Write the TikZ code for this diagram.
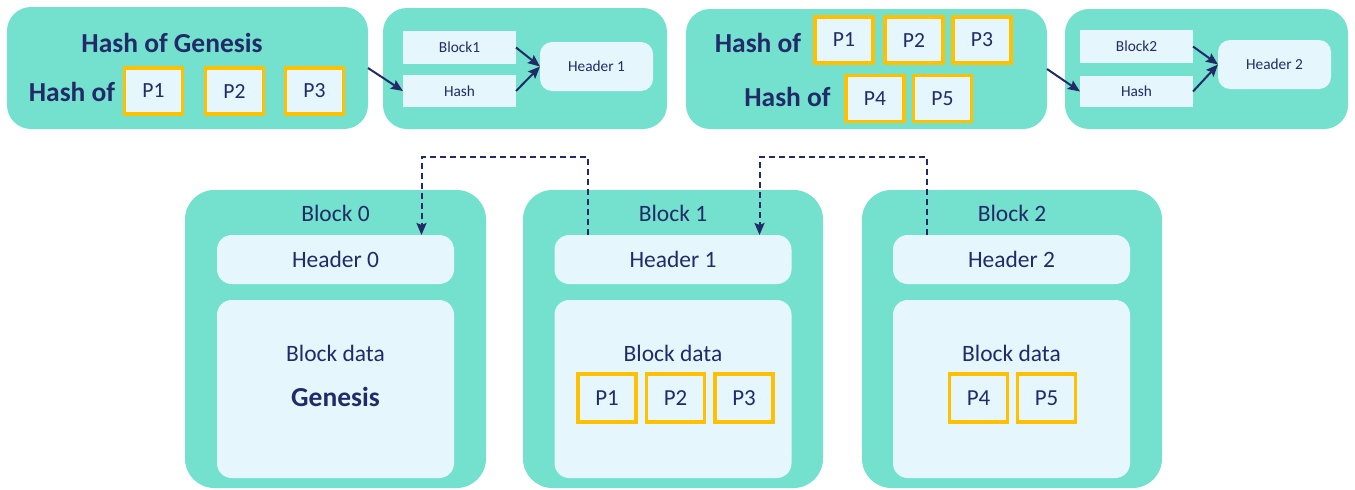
\documentclass[tikz,border=0pt]{standalone}
\usepackage{fontspec}
\setmainfont{Carlito}
\usetikzlibrary{arrows.meta}
\definecolor{tealbox}{HTML}{74E0CE}
\definecolor{lblue}{HTML}{E5F6FD}
\definecolor{gold}{HTML}{FFC000}
\definecolor{navy}{HTML}{222A68}
\newcommand{\fsz}[1]{\fontsize{#1}{#1}\selectfont}
\begin{document}
\begin{tikzpicture}[x=0.75pt,y=-0.75pt,
  every node/.style={inner sep=0pt,outer sep=0pt,text=navy},
  sz/.style 2 args={minimum width=#1*0.75pt,minimum height=#2*0.75pt},
  topbox/.style={fill=tealbox,rounded corners=18pt},
  blockbox/.style={fill=tealbox,rounded corners=22pt},
  innerbox/.style={fill=lblue,rounded corners=11pt},
  smallhdr/.style={fill=lblue,rounded corners=9pt,font=\fsz{11.5}},
  flatbox/.style={fill=lblue,font=\fsz{11.5}},
  ptop/.style={fill=lblue,draw=gold,line width=2.3pt,minimum width=58*0.75pt,minimum height=46*0.75pt,font=\fsz{16.2}},
  pbot/.style={fill=lblue,draw=gold,line width=2.3pt,minimum width=58*0.75pt,minimum height=48*0.75pt,font=\fsz{17.2}},
  boldtxt/.style={font=\bfseries\fsz{20.6}},
  regtxt/.style={font=\fsz{17.6}},
  arr/.style={draw=navy,line width=1.5pt,-{Stealth[length=9pt,width=7.5pt,inset=1.5pt]}},
  dasharr/.style={draw=navy,line width=1.5pt,dash pattern=on 4.5pt off 3pt,-{Stealth[length=9pt,width=7.5pt,inset=1.5pt]}}
]
\useasboundingbox (0,0) rectangle (1355,489);

% ---------- top row ----------
\node[topbox,sz={361}{122}] (t1) at (187.5,68) {};
\node[topbox,sz={284}{121}] (t2) at (525,68.5) {};
\node[topbox,sz={361}{120}] (t3) at (866.5,69) {};
\node[topbox,sz={283}{120}] (t4) at (1206.5,69) {};

% box 1
\node[boldtxt] (hg) at (172,43) {Hash of Genesis};
\node[boldtxt] (ho1) at (72,92) {Hash of};
\node[ptop] (ta1) at (153.5,91) {P1};
\node[ptop] (ta2) at (234.5,91) {P2};
\node[ptop] (ta3) at (314.5,91) {P3};

% box 2
\node[flatbox,sz={113}{33}] (blk1) at (459.5,47.5) {Block1};
\node[flatbox,sz={113}{32}] (hash1) at (459.5,91) {Hash};
\node[smallhdr,sz={113}{49}] (hd1) at (596.5,66.5) {Header 1};

% box 3
\node[boldtxt] (ho2) at (758,43) {Hash of};
\node[ptop] (tb1) at (844,40) {P1};
\node[ptop] (tb2) at (914,40) {P2};
\node[ptop] (tb3) at (982,40) {P3};
\node[boldtxt] (ho3) at (787.5,97) {Hash of};
\node[ptop] (tb4) at (875,98.5) {P4};
\node[ptop] (tb5) at (942.5,98.5) {P5};

% box 4
\node[flatbox,sz={113}{33}] (blk2) at (1136.5,46.5) {Block2};
\node[flatbox,sz={113}{31}] (hash2) at (1136.5,91.5) {Hash};
\node[smallhdr,sz={113}{49}] (hd2) at (1274.5,64.5) {Header 2};

% top arrows
\draw[arr] (t1.east) -- (hash1.west);
\draw[arr] (blk1.east) -- (hd1.west);
\draw[arr] (hash1.east) -- (hd1.west);
\draw[arr] (t3.east) -- (hash2.west);
\draw[arr] (blk2.east) -- (hd2.west);
\draw[arr] (hash2.east) -- (hd2.west);

% ---------- bottom row ----------
\node[blockbox,sz={301}{298}] (b0) at (335.5,339) {};
\node[blockbox,sz={300}{298}] (b1) at (673,339) {};
\node[blockbox,sz={300}{298}] (b2) at (1012,339) {};

\node[regtxt] (bt0) at (335.5,213) {Block 0};
\node[regtxt] (bt1) at (673,213) {Block 1};
\node[regtxt] (bt2) at (1012,213) {Block 2};

\node[innerbox,sz={237}{49},regtxt] (h0) at (335.5,259.5) {Header 0};
\node[innerbox,sz={237}{49},regtxt] (h1) at (673,259.5) {Header 1};
\node[innerbox,sz={237}{49},regtxt] (h2) at (1011.5,259.5) {Header 2};

\node[innerbox,sz={237}{178}] (d0) at (335.5,389) {};
\node[innerbox,sz={237}{178}] (d1) at (673,389) {};
\node[innerbox,sz={237}{178}] (d2) at (1011.5,389) {};

\node[regtxt] (bd0) at (335.5,353) {Block data};
\node[regtxt] (bd1) at (673,353) {Block data};
\node[regtxt] (bd2) at (1011.5,353) {Block data};

\node[boldtxt] (gen) at (335.5,397) {Genesis};
\node[pbot] (p1) at (607,398) {P1};
\node[pbot] (p2) at (675.5,398) {P2};
\node[pbot] (p3) at (744,398) {P3};
\node[pbot] (p4) at (978.5,398) {P4};
\node[pbot] (p5) at (1046.5,398) {P5};

% dashed links
\coordinate (c1) at (588,157);
\coordinate (c2) at (421.5,157);
\coordinate (c3) at (926.5,157);
\coordinate (c4) at (759.5,157);
\draw[dasharr] (h1.north -| c1) -- (c1) -- (c2) -- (h0.north -| c2);
\draw[dasharr] (h2.north -| c3) -- (c3) -- (c4) -- (h1.north -| c4);
\end{tikzpicture}
\end{document}
